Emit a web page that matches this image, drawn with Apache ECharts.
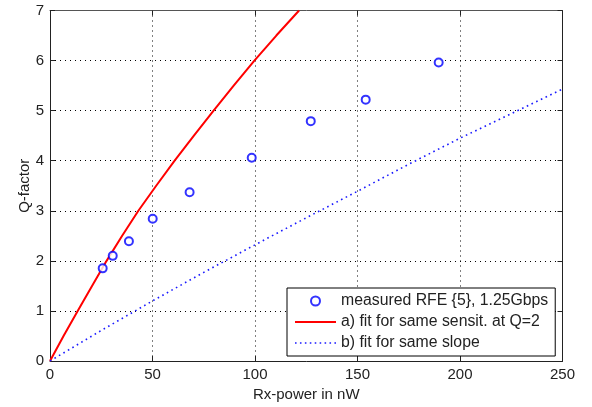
<!DOCTYPE html>
<html><head><meta charset="utf-8">
<script src="https://cdn.jsdelivr.net/npm/echarts@6/dist/echarts.min.js"></script>
<style>html,body{margin:0;padding:0;background:#fff}#c{width:592px;height:407px}</style>
</head><body><div id="c"></div>
<script>
// measured RFE {5}, 1.25Gbps
const measX = [25.7, 30.6, 38.5, 50.1, 68.1, 98.4, 127.2, 154.0, 189.6];
const measQ = [1.85, 2.10, 2.39, 2.84, 3.37, 4.06, 4.79, 5.22, 5.96];
// a) fit for same sensit. at Q=2 (read off the curve)
const fitAX = [0, 6.6, 13.5, 20.5, 27.6, 35.2, 43.1, 51.8, 60.8, 70.2, 79.8, 89.6, 99.7, 110.4, 121.5];
const fitAQ = [0, 0.5, 1, 1.5, 2, 2.5, 3, 3.5, 4, 4.5, 5, 5.5, 6, 6.5, 7];
// b) fit for same slope (read off the curve)
const fitBX = [0, 25, 50, 75, 100, 125, 150, 175, 200, 225, 250];
const fitBQ = [0, 0.61, 1.20, 1.77, 2.32, 2.86, 3.39, 3.93, 4.45, 4.94, 5.43];
const xTicks = [0, 50, 100, 150, 200, 250];
const yTicks = [0, 1, 2, 3, 4, 5, 6, 7];
const names = ['measured RFE {5}, 1.25Gbps', 'a) fit for same sensit. at Q=2', 'b) fit for same slope'];

const zip = (a, b) => a.map((v, i) => [v, b[i]]);
const FONT = "'Liberation Sans', Arial, sans-serif";
const chart = echarts.init(document.getElementById('c'), null, {renderer: 'canvas'});
const tickStyle = {show: true, inside: true, length: 5, lineStyle: {color: '#222'}};
const axLine = {show: true, onZero: false, lineStyle: {color: '#222', width: 1}};
let dots = '';
for (let i = 0; i < 9; i++) dots += 'M' + (i * 5) + ',0h1.6v1.6h-1.6Z';
chart.setOption({
  animation: false,
  backgroundColor: '#fff',
  grid: {left: 50, right: 29.5, top: 10.5, bottom: 45.5, containLabel: false},
  xAxis: [{
    type: 'value', min: xTicks[0], max: xTicks[xTicks.length - 1], interval: 50,
    position: 'bottom',
    name: 'Rx-power in nW', nameLocation: 'middle', nameGap: 26, nameMoveOverlap: false,
    nameTextStyle: {fontFamily: FONT, fontSize: 15, color: '#222'},
    axisLine: axLine, axisTick: tickStyle,
    axisLabel: {fontFamily: FONT, fontSize: 15, color: '#222', margin: 6},
    splitLine: {show: true, lineStyle: {color: '#000', type: [1, 4], width: 1}}
  }, {
    type: 'value', min: xTicks[0], max: xTicks[xTicks.length - 1], interval: 50,
    position: 'top', axisLine: {show: true, onZero: false, lineStyle: {color: '#555'}},
    axisTick: tickStyle, axisLabel: {show: false}, splitLine: {show: false}
  }],
  yAxis: [{
    type: 'value', min: yTicks[0], max: yTicks[yTicks.length - 1], interval: 1,
    position: 'left',
    name: 'Q-factor', nameLocation: 'middle', nameGap: 18, nameMoveOverlap: false,
    nameTextStyle: {fontFamily: FONT, fontSize: 15, color: '#222'},
    axisLine: axLine, axisTick: tickStyle,
    axisLabel: {fontFamily: FONT, fontSize: 15, color: '#222', margin: 6},
    splitLine: {show: true, lineStyle: {color: '#000', type: [1, 4], width: 1}}
  }, {
    type: 'value', min: yTicks[0], max: yTicks[yTicks.length - 1], interval: 1,
    position: 'right', axisLine: axLine,
    axisTick: tickStyle, axisLabel: {show: false}, splitLine: {show: false}
  }],
  legend: {
    orient: 'vertical', left: 287, top: 288,
    padding: [5, 7, 5, 8], itemGap: 5, itemWidth: 41, itemHeight: 9,
    backgroundColor: '#fff', borderColor: '#000', borderWidth: 1,
    textStyle: {fontFamily: FONT, fontSize: 15.8, lineHeight: 16, color: '#222'},
    data: [
      {name: names[0]},
      {name: names[1], icon: 'path://M0,0H41V2H0Z', itemStyle: {color: '#ff0000', borderWidth: 0}},
      {name: names[2], icon: 'path://' + dots, itemStyle: {color: '#1a1aff', borderWidth: 0}}
    ]
  },
  series: [{
    name: names[0], type: 'scatter', data: zip(measX, measQ), z: 5,
    symbol: 'emptyCircle', symbolSize: 8,
    itemStyle: {color: '#0000ff', borderColor: '#0000ff', borderWidth: 2}
  }, {
    name: names[1], type: 'line', data: zip(fitAX, fitAQ), symbol: 'none', smooth: false,
    itemStyle: {color: '#ff0000'},
    lineStyle: {color: '#ff0000', width: 2}
  }, {
    name: names[2], type: 'line', data: zip(fitBX, fitBQ), symbol: 'none', smooth: false,
    itemStyle: {color: '#1a1aff'},
    lineStyle: {color: '#1a1aff', width: 1.6, type: [1.6, 3.6]}
  }]
});
</script></body></html>
